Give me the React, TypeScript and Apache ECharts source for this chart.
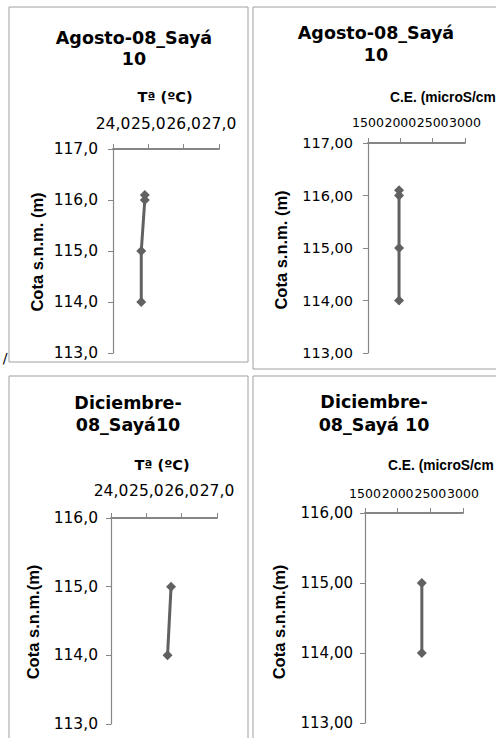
import React, { useEffect, useRef } from "react";
import * as echarts from "echarts";

// ---- Data ----
const agoTempCota = [116.1, 116.0, 115.0, 114.0];
const agoTempVal = [24.9, 24.9, 24.8, 24.8];
const agoCeCota = [116.1, 116.0, 115.0, 114.0];
const agoCeVal = [1980, 1980, 1980, 1980];
const dicTempCota = [115.0, 114.0];
const dicTempVal = [25.7, 25.6];
const dicCeCota = [115.0, 114.0];
const dicCeVal = [2370, 2370];

const titlesLine1 = ["Agosto-08_Sayá", "Agosto-08_Sayá", "Diciembre-", "Diciembre-"];
const titlesLine2 = ["10", "10", "08_Sayá10", "08_Sayá 10"];
const xTitles = ["Tª (ºC)", "C.E. (microS/cm", "Tª (ºC)", "C.E. (microS/cm"];
const yTitles = ["Cota s.n.m. (m)", "Cota s.n.m. (m)", "Cota s.n.m.(m)", "Cota s.n.m.(m)"];

const FONT = "DejaVu Sans";
const ARIAL = "Liberation Sans";
const AXIS = "#868686";
const LINE = "#616161";

const fmt = (d: number) => (v: number) => v.toFixed(d).replace(".", ",");

export default function App() {
  const ref = useRef<HTMLDivElement>(null);
  useEffect(() => {
    if (!ref.current) return;
    const chart = echarts.init(ref.current, null, { renderer: "svg" });

    const grids = [
      { left: 113, top: 149, width: 106, height: 204 },
      { left: 368, top: 143, width: 97, height: 210 },
      { left: 111, top: 518, width: 106, height: 206 },
      { left: 365, top: 513, width: 98, height: 210 },
    ];
    const xCfg = [
      { min: 24, max: 27, interval: 1, dec: 1, fs: 15.5, margin: 17 },
      { min: 1500, max: 3000, interval: 500, dec: 0, fs: 12.5, margin: 14 },
      { min: 24, max: 27, interval: 1, dec: 1, fs: 15.5, margin: 19 },
      { min: 1500, max: 3000, interval: 500, dec: 0, fs: 12.5, margin: 13 },
    ];
    const yCfg = [
      { min: 113, max: 117, dec: 1, fs: 15.5, margin: 15 },
      { min: 113, max: 117, dec: 2, fs: 14.5, margin: 15 },
      { min: 113, max: 116, dec: 1, fs: 15.5, margin: 13 },
      { min: 113, max: 116, dec: 2, fs: 15, margin: 12 },
    ];

    const xAxis = xCfg.map((c, i) => ({
      type: "value",
      gridIndex: i,
      position: "top",
      min: c.min,
      max: c.max,
      interval: c.interval,
      splitLine: { show: false },
      axisLine: { show: true, onZero: false, lineStyle: { color: AXIS, width: 1.8 } },
      axisTick: { show: true, length: 5, lineStyle: { color: AXIS } },
      axisLabel: {
        show: true,
        interval: 0,
        hideOverlap: false,
        showMinLabel: true,
        showMaxLabel: true,
        fontFamily: FONT,
        fontSize: c.fs,
        color: "#000",
        margin: c.margin,
        formatter: c.dec > 0 ? fmt(c.dec) : (v: number) => String(v),
      },
    }));
    const yAxis = yCfg.map((c, i) => ({
      type: "value",
      gridIndex: i,
      min: c.min,
      max: c.max,
      interval: 1,
      splitLine: { show: false },
      axisLine: { show: true, onZero: false, lineStyle: { color: AXIS, width: 1.2 } },
      axisTick: { show: true, length: 5, lineStyle: { color: AXIS } },
      axisLabel: {
        show: true,
        interval: 0,
        hideOverlap: false,
        showMinLabel: true,
        showMaxLabel: true,
        fontFamily: FONT,
        fontSize: c.fs,
        color: "#000",
        margin: c.margin,
        formatter: fmt(c.dec),
      },
    }));

    const pairs = [
      [agoTempVal, agoTempCota],
      [agoCeVal, agoCeCota],
      [dicTempVal, dicTempCota],
      [dicCeVal, dicCeCota],
    ];
    const series = pairs.map(([xs, ys], i) => ({
      type: "line",
      xAxisIndex: i,
      yAxisIndex: i,
      data: xs.map((x, k) => [x, ys[k]]),
      symbol: "diamond",
      symbolSize: 10,
      lineStyle: { color: LINE, width: 3 },
      itemStyle: { color: LINE },
    }));

    const panels = [
      { x: 9, y: 7, w: 239, h: 355 },
      { x: 253, y: 7, w: 260, h: 362 },
      { x: 9, y: 376, w: 239, h: 400 },
      { x: 253, y: 376, w: 260, h: 400 },
    ];
    const titlePos = [
      { x: 134, y1: 38, y2: 59 },
      { x: 376, y1: 33, y2: 55 },
      { x: 128, y1: 403, y2: 425 },
      { x: 374, y1: 402, y2: 425 },
    ];
    const xTitleStyle = [
      { x: 165, y: 97, align: "center", font: `bold 14.5px "${FONT}"` },
      { x: 390, y: 97, align: "left", font: `bold 13.8px "${ARIAL}"` },
      { x: 162, y: 465, align: "center", font: `bold 14.5px "${FONT}"` },
      { x: 388, y: 465, align: "left", font: `bold 13.8px "${ARIAL}"` },
    ];
    const yTitlePos = [
      { x: 37, y: 252 },
      { x: 281, y: 250 },
      { x: 33, y: 622 },
      { x: 279, y: 622 },
    ];

    const graphic: any[] = [];
    panels.forEach((p) => {
      graphic.push({
        type: "rect",
        shape: { x: p.x, y: p.y, width: p.w, height: p.h },
        style: { fill: "none", stroke: "#a0a0a0", lineWidth: 1 },
        z: -1,
      });
    });
    titlePos.forEach((t, i) => {
      [titlesLine1[i], titlesLine2[i]].forEach((txt, j) => {
        graphic.push({
          type: "text",
          x: t.x,
          y: j === 0 ? t.y1 : t.y2,
          style: {
            text: txt,
            font: `bold 17.5px "${FONT}"`,
            fill: "#000",
            align: "center",
            verticalAlign: "middle",
          },
        });
      });
    });
    xTitleStyle.forEach((t, i) => {
      graphic.push({
        type: "text",
        x: t.x,
        y: t.y,
        style: {
          text: xTitles[i],
          font: t.font,
          fill: "#000",
          align: t.align,
          verticalAlign: "middle",
        },
      });
    });
    yTitlePos.forEach((t, i) => {
      graphic.push({
        type: "text",
        x: t.x,
        y: t.y,
        rotation: Math.PI / 2,
        style: {
          text: yTitles[i],
          font: `bold 16.5px "${ARIAL}"`,
          fill: "#000",
          align: "center",
          verticalAlign: "middle",
        },
      });
    });
    graphic.push({
      type: "text",
      x: 5,
      y: 358,
      style: {
        text: "/",
        font: `14px "${FONT}"`,
        fill: "#000",
        align: "center",
        verticalAlign: "middle",
      },
    });

    chart.setOption({
      animation: false,
      backgroundColor: "#fff",
      grid: grids,
      xAxis,
      yAxis,
      series,
      graphic,
    } as any);

    return () => chart.dispose();
  }, []);

  return (
    <div
      ref={ref}
      style={{ position: "absolute", left: 0, top: 0, width: 496, height: 738, overflow: "hidden" }}
    />
  );
}
